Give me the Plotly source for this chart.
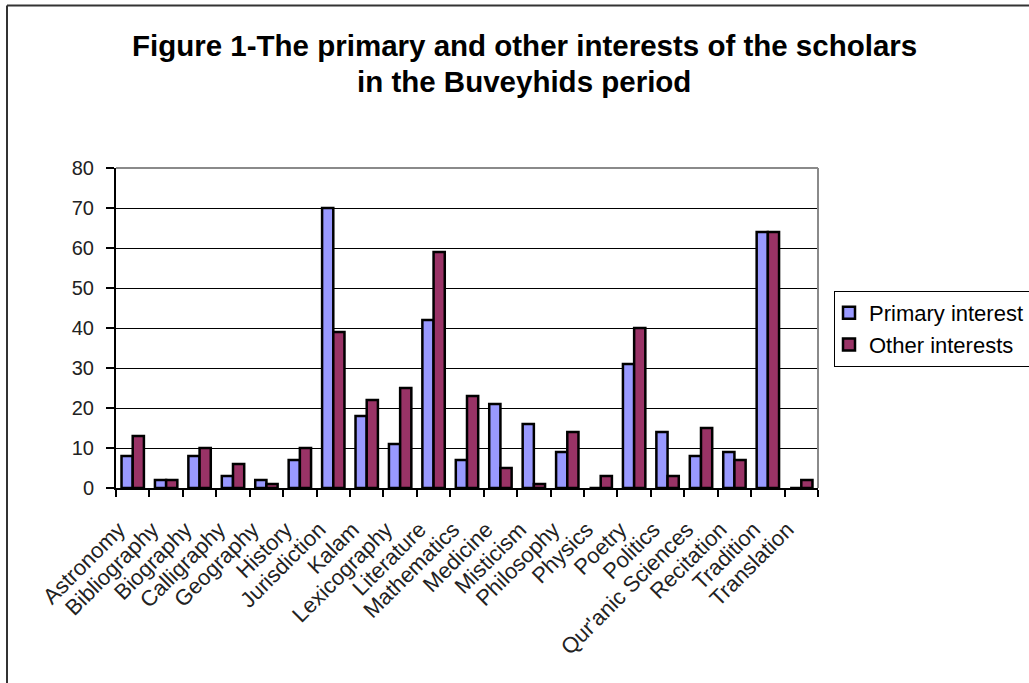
import plotly.graph_objects as go

categories = ["Astronomy", "Bibliography", "Biography", "Calligraphy", "Geography",
              "History", "Jurisdiction", "Kalam", "Lexicography", "Literature",
              "Mathematics", "Medicine", "Misticism", "Philosophy", "Physics",
              "Poetry", "Politics", "Qur'anic Sciences", "Recitation", "Tradition",
              "Translation"]
primary_interest = [8, 2, 8, 3, 2, 7, 70, 18, 11, 42, 7, 21, 16, 9, 0, 31, 14, 8, 9, 64, 0]
other_interests = [13, 2, 10, 6, 1, 10, 39, 22, 25, 59, 23, 5, 1, 14, 3, 40, 3, 15, 7, 64, 2]
y_ticks = [0, 10, 20, 30, 40, 50, 60, 70, 80]

FONT = "Liberation Sans, Arial, sans-serif"
W, H = 1029, 683
L, R, T, B = 116, 818, 168, 488  # plot area in pixels

def px_x(px):
    return (px - L) / (R - L)

def px_y(py):
    return (B - py) / (B - T)

fig = go.Figure()
fig.add_trace(go.Bar(x=categories, y=primary_interest, name="Primary interest",
                     marker=dict(color="#9999FF", line=dict(color="black", width=2.5)),
                     legendgroup="a"))
fig.add_trace(go.Bar(x=categories, y=other_interests, name="Other interests",
                     marker=dict(color="#993366", line=dict(color="black", width=2.5)),
                     legendgroup="b"))

fig.update_layout(
    width=W, height=H,
    margin=dict(l=L, r=W - R, t=T, b=H - B, autoexpand=False),
    paper_bgcolor="white", plot_bgcolor="white",
    barmode="group", bargap=0.33, bargroupgap=0,
    font=dict(family=FONT, color="black"),
    showlegend=True,
    legend=dict(x=px_x(834), y=px_y(291), xanchor="left", yanchor="top",
                bordercolor="black", borderwidth=1, bgcolor="white",
                font=dict(size=22, family=FONT, color="black"),
                tracegroupgap=9, traceorder="normal", itemwidth=30,
                indentation=-6),
)

fig.update_yaxes(range=[0, 80], tickvals=y_ticks, ticktext=[str(v) for v in y_ticks],
                 showgrid=True, gridcolor="black", gridwidth=1,
                 showline=True, linecolor="black", linewidth=2,
                 ticks="outside", ticklen=8, tickcolor="black", tickwidth=1.5,
                 tickfont=dict(size=20, family=FONT, color="#222"),
                 ticklabelstandoff=8, zeroline=False, fixedrange=True)
fig.update_xaxes(type="category", tickangle=-45, tickson="boundaries",
                 showline=True, linecolor="black", linewidth=2,
                 ticks="outside", ticklen=7, tickcolor="black", tickwidth=1.5,
                 tickfont=dict(size=22, family=FONT, color="#222"),
                 ticklabelstandoff=18, ticklabelshift=-14,
                 showgrid=False, fixedrange=True)

# gray plot-area frame (top and right)
fig.add_shape(type="line", xref="paper", yref="paper", x0=0, x1=1, y0=1, y1=1,
              line=dict(color="#8a8a8a", width=2))
fig.add_shape(type="line", xref="paper", yref="paper", x0=1, x1=1, y0=0, y1=1,
              line=dict(color="#8a8a8a", width=2))
# outer chart frame (left and top)
fig.add_shape(type="line", xref="paper", yref="paper", x0=px_x(7), x1=px_x(7),
              y0=px_y(5.5), y1=px_y(H + 5), line=dict(color="#333333", width=2))
fig.add_shape(type="line", xref="paper", yref="paper", x0=px_x(7), x1=px_x(W + 5),
              y0=px_y(5.5), y1=px_y(5.5), line=dict(color="#333333", width=2))

# title (two lines)
fig.add_annotation(text="<b>Figure 1-The primary and other interests of the scholars</b>",
                   xref="paper", yref="paper", x=px_x(524), y=px_y(46),
                   xanchor="center", yanchor="middle", showarrow=False,
                   font=dict(size=29.5, family=FONT, color="black"))
fig.add_annotation(text="<b>in the Buveyhids period</b>",
                   xref="paper", yref="paper", x=px_x(524), y=px_y(82),
                   xanchor="center", yanchor="middle", showarrow=False,
                   font=dict(size=29.5, family=FONT, color="black"))

fig.write_html("out.html")
